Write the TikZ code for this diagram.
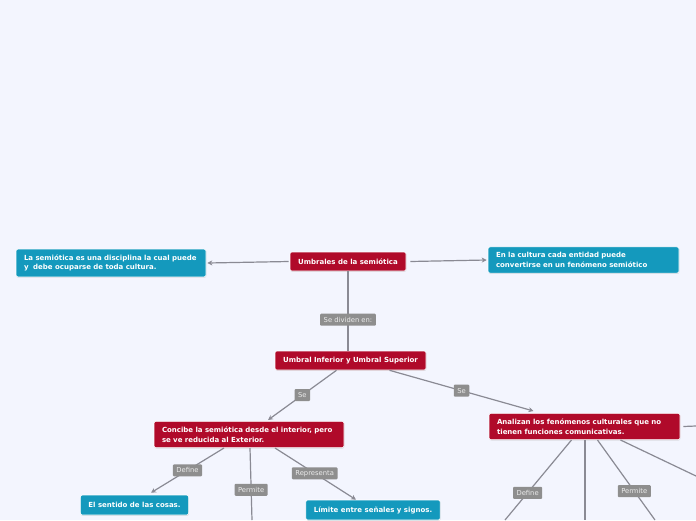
\documentclass[tikz,border=0pt]{standalone}
\usepackage{fontspec}
\setmainfont{DejaVu Sans}
\usetikzlibrary{arrows.meta,shadows}
\definecolor{bgcol}{HTML}{F3F5FE}
\definecolor{topicred}{HTML}{B00A2A}
\definecolor{leafblue}{HTML}{1499BD}
\definecolor{lblgray}{HTML}{8E8E8E}
\definecolor{linegray}{HTML}{8A8A94}
\begin{document}
\begin{tikzpicture}[x=1pt, y=-1pt, >={Stealth[length=5pt,width=5pt]},
  box/.style={rounded corners=2pt, draw=white, line width=0.6pt, text=white,
    font=\fontsize{7}{9.7}\selectfont\bfseries, inner xsep=8pt, inner ysep=5.5pt,
    minimum height=19pt, align=left,
    drop shadow={shadow xshift=0.4pt, shadow yshift=-0.8pt, opacity=0.25}},
  topic/.style={box, fill=topicred},
  leaf/.style={box, fill=leafblue},
  lbl/.style={fill=lblgray, text=white!92!black, font=\fontsize{6.8}{8}\selectfont,
    inner xsep=3.5pt, inner ysep=1.5pt, minimum height=12pt, rounded corners=1pt},
  conn/.style={draw=linegray, line width=1.2pt}]
\fill[bgcol] (0,0) rectangle (696,520);
\useasboundingbox (0,0) rectangle (696,520);

\node[topic, minimum width=116pt] (root) at (348,261.5) {Umbrales de la semiótica};
\node[leaf, text width=174pt] (semio) at (111,263) {La semiótica es una disciplina la cual puede\\y\ \ debe ocuparse de toda cultura.};
\node[leaf, text width=175pt] (cultura) at (583.5,260) {En la cultura cada entidad puede\\convertirse en un fenómeno semiótico};
\node[topic, minimum width=151pt] (umbral) at (350.5,360.5) {Umbral Inferior y Umbral Superior};
\node[topic, text width=174pt] (concibe) at (249,434.5) {Concibe la semiótica desde el interior, pero\\se ve reducida al Exterior.};
\node[topic, text width=175pt] (analizan) at (584.5,426.5) {Analizan los fenómenos culturales que no\\tienen funciones comunicativas.};
\node[leaf, minimum width=107pt, minimum height=20pt] (sentido) at (134.5,505) {El sentido de las cosas.};
\node[leaf, minimum width=132pt, minimum height=20pt] (limite) at (373,510) {Límite entre señales y signos.};

% cabos sueltos que salen del cuadro
\coordinate (offR) at (696,426);
\coordinate (offA) at (505,520);
\coordinate (offB) at (585,520);
\coordinate (offC) at (655,520);
\coordinate (offD) at (696,476);
\coordinate (offE) at (252,520);

\draw[conn,->] ([xshift=-1pt]root.west) -- ([xshift=1pt]semio.east);
\draw[conn,->] ([xshift=4pt]root.east) -- ([xshift=-1pt]cultura.west);
\draw[conn] (root.south) -- node[lbl, pos=0.61] {Se dividen en:} ([xshift=-2.5pt]umbral.north);
\draw[conn,->] ([xshift=-14pt]umbral.south) -- node[lbl] {Se} ([xshift=19pt,yshift=1pt]concibe.north);
\draw[conn,->] ([xshift=39pt]umbral.south) -- node[lbl] {Se} ([xshift=-51pt,yshift=2pt]analizan.north);

\draw[conn] ([xshift=3pt]analizan.east) -- (offR);
\draw[conn] ([xshift=-13pt]analizan.south) -- node[lbl, pos=0.66] {Define} (offA);
\draw[conn] ([xshift=0.5pt]analizan.south) -- (offB);
\draw[conn] ([xshift=13pt]analizan.south) -- node[lbl, pos=0.64] {Permite} (offC);
\draw[conn] ([xshift=36pt]analizan.south) -- (offD);

\draw[conn,->] ([xshift=-25pt]concibe.south) -- node[lbl] {Define} ([xshift=16.5pt,yshift=2pt]sentido.north);
\draw[conn] ([xshift=1pt]concibe.south) -- node[lbl, pos=0.58] {Permite} (offE);
\draw[conn,->] ([xshift=26pt]concibe.south) -- node[lbl, pos=0.49] {Representa} ([xshift=-17pt]limite.north);
\end{tikzpicture}
\end{document}
